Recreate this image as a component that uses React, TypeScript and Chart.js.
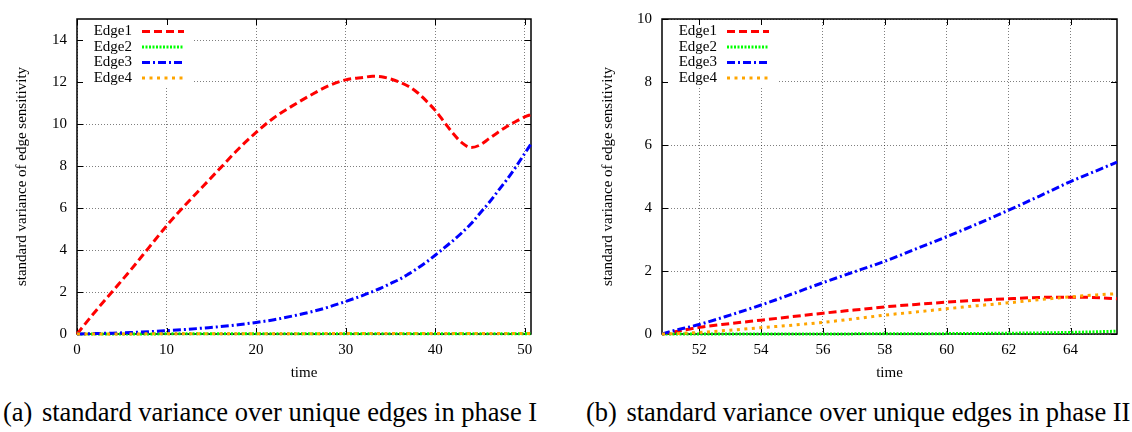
import React, { useEffect, useRef } from 'react';
import { Chart, registerables } from 'chart.js';

Chart.register(...registerables);

const FONT = '"Liberation Serif", "Times New Roman", serif';

// ---------- data ----------
const seriesNames = ['Edge1', 'Edge2', 'Edge3', 'Edge4'];

// Phase I
const phase1Time = [0, 2, 4, 6, 8, 10, 12, 14, 16, 18, 20, 22, 24, 26, 28, 30, 32, 33, 34, 35, 36, 37, 38, 39, 40, 41, 42, 43, 44, 45, 46, 47, 48, 49, 50, 50.7];
const phase1Edge1 = [0, 1.05, 2.05, 3.05, 4.1, 5.15, 6.1, 7.0, 7.9, 8.8, 9.6, 10.3, 10.85, 11.35, 11.8, 12.1, 12.22, 12.27, 12.25, 12.15, 12.0, 11.8, 11.5, 11.1, 10.65, 10.1, 9.55, 9.1, 8.88, 9.0, 9.3, 9.6, 9.88, 10.12, 10.34, 10.45];
const phase1Edge2 = [0, 0, 0, 0, 0, 0.01, 0.01, 0.01, 0.01, 0.01, 0.01, 0.01, 0.01, 0.01, 0.01, 0.01, 0.01, 0.01, 0.01, 0.01, 0.01, 0.01, 0.01, 0.01, 0.01, 0.01, 0.01, 0.01, 0.01, 0.01, 0.01, 0.01, 0.01, 0.01, 0.01, 0.01];
const phase1Edge3 = [0, 0.02, 0.04, 0.07, 0.11, 0.16, 0.21, 0.28, 0.35, 0.44, 0.55, 0.68, 0.85, 1.04, 1.27, 1.55, 1.85, 2.02, 2.2, 2.4, 2.6, 2.85, 3.12, 3.42, 3.75, 4.1, 4.45, 4.83, 5.25, 5.75, 6.25, 6.8, 7.35, 7.95, 8.6, 9.05];
const phase1Edge4 = [0, 0, 0, 0, 0.01, 0.01, 0.01, 0.01, 0.01, 0.01, 0.01, 0.01, 0.01, 0.01, 0.02, 0.02, 0.02, 0.02, 0.02, 0.02, 0.02, 0.02, 0.02, 0.02, 0.02, 0.02, 0.02, 0.02, 0.02, 0.02, 0.02, 0.02, 0.02, 0.02, 0.02, 0.02];

// Phase II
const phase2Time = [50.8, 51, 52, 53, 54, 55, 56, 57, 58, 59, 60, 61, 62, 63, 64, 65, 65.5];
const phase2Edge1 = [0, 0.03, 0.21, 0.33, 0.44, 0.55, 0.66, 0.76, 0.86, 0.94, 1.01, 1.07, 1.12, 1.16, 1.17, 1.15, 1.12];
const phase2Edge2 = [0, 0, 0, 0, 0, 0, 0.002, 0.004, 0.006, 0.008, 0.012, 0.018, 0.025, 0.035, 0.05, 0.075, 0.09];
const phase2Edge3 = [0, 0.06, 0.3, 0.6, 0.92, 1.27, 1.63, 1.97, 2.31, 2.7, 3.09, 3.5, 3.93, 4.38, 4.84, 5.25, 5.46];
const phase2Edge4 = [0, 0.005, 0.05, 0.12, 0.2, 0.28, 0.37, 0.48, 0.6, 0.7, 0.8, 0.9, 0.99, 1.09, 1.18, 1.25, 1.28];

// Axes
const phase1XRange = [0, 50.7];
const phase1YRange = [0, 15];
const phase1XTicks = [0, 10, 20, 30, 40, 50];
const phase1YTicks = [0, 2, 4, 6, 8, 10, 12, 14];
const phase2XRange = [50.8, 65.5];
const phase2YRange = [0, 10];
const phase2XTicks = [52, 54, 56, 58, 60, 62, 64];
const phase2YTicks = [0, 2, 4, 6, 8, 10];

const xTitle = 'time';
const yTitle = 'standard variance of edge sensitivity';
const captionA = ['(a)', 'standard variance over unique edges in phase I'];
const captionB = ['(b)', 'standard variance over unique edges in phase II'];

// ---------- styles ----------
const seriesColors = ['#ff0000', '#00ff00', '#0000ff', '#ffa500'];
const seriesDashes = [[8, 4], [2, 1.5], [8, 3, 2, 3], [3, 4.5]];
const seriesOrder = [4, 3, 2, 1];

const framePlugin = {
  id: 'gnuFrame',
  beforeDatasetsDraw(chart: any) {
    const { ctx, chartArea: a, scales } = chart;
    ctx.save();
    ctx.fillStyle = '#ffffff';
    ctx.fillRect(a.left + 1, a.top + 1, 116, 67);
    ctx.strokeStyle = '#000';
    ctx.lineWidth = 1;
    ctx.setLineDash([]);
    ctx.beginPath();
    for (const t of scales.x.ticks) {
      const px = Math.round(scales.x.getPixelForValue(t.value)) + 0.5;
      ctx.moveTo(px, a.bottom);
      ctx.lineTo(px, a.bottom - 6);
      ctx.moveTo(px, a.top);
      ctx.lineTo(px, a.top + 6);
    }
    for (const t of scales.y.ticks) {
      const py = Math.round(scales.y.getPixelForValue(t.value)) + 0.5;
      ctx.moveTo(a.left, py);
      ctx.lineTo(a.left + 6, py);
      ctx.moveTo(a.right, py);
      ctx.lineTo(a.right - 6, py);
    }
    ctx.stroke();
    ctx.lineWidth = 1.5;
    ctx.strokeRect(a.left, a.top, a.right - a.left, a.bottom - a.top);
    ctx.restore();
  },
  afterDatasetsDraw(chart: any) {
    const { ctx, chartArea: a } = chart;
    ctx.save();
    ctx.font = `15px ${FONT}`;
    ctx.textAlign = 'right';
    ctx.textBaseline = 'middle';
    chart.data.datasets.forEach((ds: any, i: number) => {
      const y = a.top + 12.5 + 15.5 * i;
      ctx.fillStyle = '#000';
      ctx.fillText(ds.label, a.left + 55, y);
      ctx.strokeStyle = ds.borderColor;
      ctx.lineWidth = ds.borderWidth;
      ctx.setLineDash(ds.borderDash);
      ctx.beginPath();
      ctx.moveTo(a.left + 65, y);
      ctx.lineTo(a.left + 107, y);
      ctx.stroke();
    });
    ctx.restore();
  },
};

function makeConfig(
  time: number[],
  series: number[][],
  xRange: number[],
  yRange: number[],
  xTicks: number[],
  yTicks: number[],
  titlePad: number,
  rightPad: number
): any {
  const tickFont = { family: FONT, size: 15 };
  return {
    type: 'line',
    data: {
      datasets: series.map((vals, i) => ({
        label: seriesNames[i],
        data: time.map((t, j) => ({ x: t, y: vals[j] })),
        borderColor: seriesColors[i],
        borderDash: seriesDashes[i],
        borderWidth: 3,
        borderCapStyle: 'butt',
        pointRadius: 0,
        fill: false,
        cubicInterpolationMode: 'monotone',
        clip: 6,
        order: seriesOrder[i],
      })),
    },
    options: {
      responsive: false,
      animation: false,
      events: [],
      layout: { padding: { left: 0, right: rightPad, top: 10, bottom: 0 } },
      plugins: { legend: { display: false }, tooltip: { enabled: false }, title: { display: false } },
      scales: {
        x: {
          type: 'linear',
          min: xRange[0],
          max: xRange[1],
          afterBuildTicks: (s: any) => { s.ticks = xTicks.map((v) => ({ value: v })); },
          afterFit: (s: any) => { s.height = 61; },
          ticks: { font: tickFont, color: '#000', padding: 7, maxRotation: 0, autoSkip: false },
          grid: { color: 'rgba(0,0,0,0.5)', lineWidth: 1, drawTicks: false },
          border: { display: false, dash: [1, 2] },
          title: { display: true, text: xTitle, font: tickFont, color: '#000', padding: { top: 0, bottom: 13 } },
        },
        y: {
          type: 'linear',
          min: yRange[0],
          max: yRange[1],
          afterBuildTicks: (s: any) => { s.ticks = yTicks.map((v) => ({ value: v })); },
          afterFit: (s: any) => { s.width = 77; },
          ticks: { font: tickFont, color: '#000', padding: 10, autoSkip: false },
          grid: { color: 'rgba(0,0,0,0.5)', lineWidth: 1, drawTicks: false },
          border: { display: false, dash: [1, 2] },
          title: { display: true, text: yTitle, font: tickFont, color: '#000', padding: { top: titlePad, bottom: 0 } },
        },
      },
    },
    plugins: [framePlugin],
  };
}

const captionStyle: React.CSSProperties = {
  position: 'absolute',
  top: 397,
  font: `26.5px ${FONT}`,
  lineHeight: '30px',
  whiteSpace: 'nowrap',
  color: '#000',
};

export default function App() {
  const refA = useRef<HTMLCanvasElement>(null);
  const refB = useRef<HTMLCanvasElement>(null);

  useEffect(() => {
    const a = new Chart(
      refA.current as HTMLCanvasElement,
      makeConfig(phase1Time, [phase1Edge1, phase1Edge2, phase1Edge3, phase1Edge4], phase1XRange, phase1YRange, phase1XTicks, phase1YTicks, 13, 35)
    );
    const b = new Chart(
      refB.current as HTMLCanvasElement,
      makeConfig(phase2Time, [phase2Edge1, phase2Edge2, phase2Edge3, phase2Edge4], phase2XRange, phase2YRange, phase2XTicks, phase2YTicks, 14, 15)
    );
    return () => {
      a.destroy();
      b.destroy();
    };
  }, []);

  return (
    <div style={{ position: 'absolute', left: 0, top: 0, width: 1132, height: 432, background: '#fff', overflow: 'hidden' }}>
      <canvas ref={refA} width={566} height={395} style={{ position: 'absolute', left: 0, top: 0 }} />
      <canvas ref={refB} width={547} height={395} style={{ position: 'absolute', left: 585, top: 0 }} />
      <div style={{ ...captionStyle, left: 3 }}>
        <span>{captionA[0]}</span>
        <span style={{ marginLeft: 9.5 }}>{captionA[1]}</span>
      </div>
      <div style={{ ...captionStyle, left: 586 }}>
        <span>{captionB[0]}</span>
        <span style={{ marginLeft: 9.5 }}>{captionB[1]}</span>
      </div>
    </div>
  );
}
